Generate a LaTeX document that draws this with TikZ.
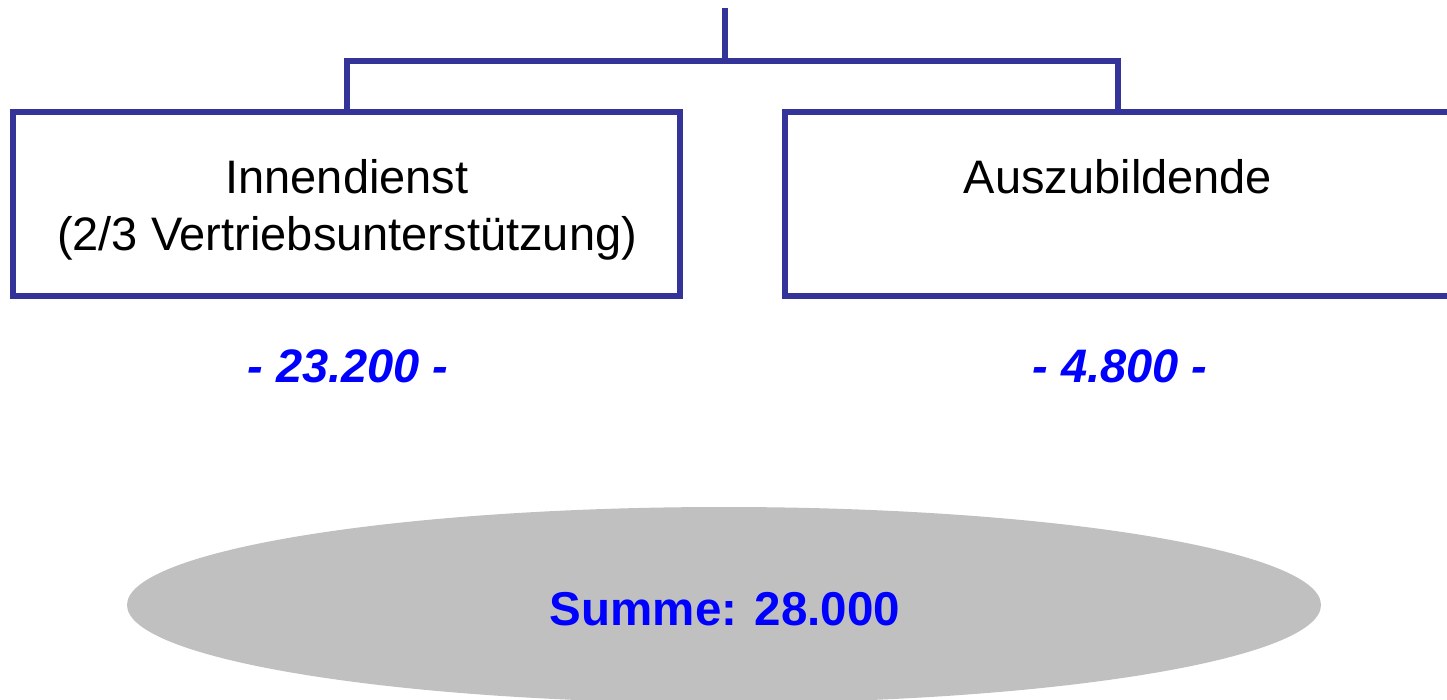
\documentclass[tikz,border=0pt]{standalone}
\usepackage{fontspec}
\setmainfont{Liberation Sans}
\usetikzlibrary{shapes.geometric}
\definecolor{boxblue}{RGB}{51,51,153}
\definecolor{ellgray}{RGB}{192,192,192}
\definecolor{numblue}{RGB}{0,0,255}
\begin{document}
\begin{tikzpicture}[x=1pt,y=-1pt,
  orgbox/.style={draw=boxblue,line width=6pt,rectangle,minimum height=184pt,inner sep=0pt,fill=white},
  conn/.style={draw=boxblue,line width=6pt},
  lbl/.style={anchor=base,inner sep=0pt,font=\fontsize{47}{56}\selectfont},
  num/.style={anchor=base,inner sep=0pt,text=numblue,font=\fontsize{47}{56}\selectfont\bfseries\itshape},
  sumell/.style={ellipse,fill=ellgray,minimum width=1194pt,minimum height=196pt,inner sep=0pt}
]
\useasboundingbox (0,0) rectangle (1447,700);
\clip (0,0) rectangle (1447,700);
\node[orgbox,minimum width=667pt] (left) at (346.5,204) {};
\node[orgbox,minimum width=666pt] (right) at (1118,204) {};
\coordinate (top) at (725,8);
\coordinate (bar) at (725,61);
\draw[conn] (left.north) |- (bar) -| (right.north);
\draw[conn] (top) -- (bar);
\node[lbl] (t1) at (347,194) {Innendienst};
\node[lbl] (t2) at (347,251) {(2/3 Vertriebsunterstützung)};
\node[lbl] (t3) at (1118,194) {Auszubildende};
\node[num] (n1) at (348,382) {- 23.200 -};
\node[num] (n2) at (1120,382) {- 4.800 -};
\node[sumell] (sum) at (724,605) {};
\node[lbl,text=numblue,font=\fontsize{47.5}{56}\selectfont\bfseries] (s) at (725,625) {Summe: 28.000};
\end{tikzpicture}
\end{document}
